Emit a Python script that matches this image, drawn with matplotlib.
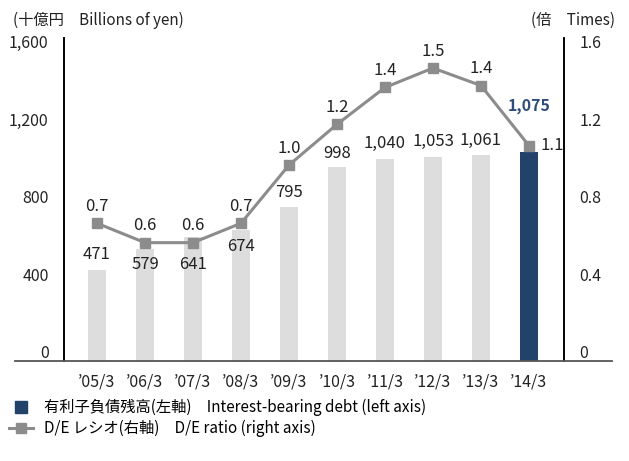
import matplotlib
matplotlib.use("Agg")
import matplotlib.pyplot as plt
from matplotlib.lines import Line2D
from matplotlib.transforms import ScaledTranslation

plt.rcParams['font.family'] = ['Noto Sans CJK JP', 'DejaVu Sans']

# data
years = ['\u201905/3', '\u201906/3', '\u201907/3', '\u201908/3', '\u201909/3',
         '\u201910/3', '\u201911/3', '\u201912/3', '\u201913/3', '\u201914/3']
debt = [471, 579, 641, 674, 795, 998, 1040, 1053, 1061, 1075]
de_ratio = [0.71, 0.61, 0.61, 0.71, 1.01, 1.22, 1.41, 1.51, 1.42, 1.11]
left_ticks = [0, 400, 800, 1200, 1600]
right_ticks = [0, 0.4, 0.8, 1.2, 1.6]

# label placement (pixels, up = positive)
bar_label_dy = [15, -16, -28, -16, 14, 14, 16, 15, 15, 46]

light = '#dcdddc'
dark = '#23426a'
grey = '#8c8c8c'

W, H = 629, 461
fig = plt.figure(figsize=(W / 100, H / 100), dpi=100)
ax = fig.add_axes([64 / W, 1 - 361 / H, 500 / W, (361 - 38) / H])
ax2 = ax.twinx()

x = list(range(len(years)))
colors = [light] * (len(years) - 1) + [dark]
ax.bar(x, debt, width=0.36, color=colors, zorder=2)
ax2.plot(x, de_ratio, color=grey, lw=2.2, marker='s', ms=6.5, zorder=3)

ax.set_xlim(-0.6875, 9.73)
ax.set_ylim(0, 1665)
ax2.set_ylim(0, 1.665)

ax.set_yticks(left_ticks)
ax.set_yticklabels([f'{v:,}' for v in left_ticks])
ax2.set_yticks(right_ticks)
ax2.set_yticklabels([f'{v:g}' if v == 0 else f'{v:.1f}' for v in right_ticks])
ax.set_xticks(x)
ax.set_xticklabels(years)

ax.tick_params(axis='y', length=0, pad=11, labelsize=11.5, colors='#222222')
ax2.tick_params(axis='y', length=0, pad=11, labelsize=11.5, colors='#222222')
ax.tick_params(axis='x', length=0, pad=9, labelsize=11.5, colors='#222222')

# tick labels sit a little above their values
up = ScaledTranslation(0, 9 / 100, fig.dpi_scale_trans)
for lab in ax.get_yticklabels() + ax2.get_yticklabels():
    lab.set_transform(lab.get_transform() + up)

for a in (ax, ax2):
    a.spines['top'].set_visible(False)
    a.spines['bottom'].set_visible(False)
    a.spines['left'].set_linewidth(1.2)
    a.spines['right'].set_linewidth(1.2)

# baseline running past both axes
fig.add_artist(Line2D([15 / W, 612 / W], [1 - 361 / H, 1 - 361 / H],
                      color='#555555', lw=1.3))

for i, v in enumerate(debt):
    last = i == len(debt) - 1
    ax.annotate(f'{v:,}', (i, v), xytext=(0, bar_label_dy[i]),
                textcoords='offset pixels', ha='center', va='center',
                fontsize=12 if not last else 11.5,
                color='#2e4d7b' if last else '#222222',
                fontweight='bold' if last else 'normal', zorder=5)

for i, r in enumerate(de_ratio):
    if i == len(de_ratio) - 1:
        ax2.annotate(f'{r:.1f}', (i, r), xytext=(23, 0),
                     textcoords='offset pixels', ha='center', va='center',
                     fontsize=12, color='#222222')
    else:
        ax2.annotate(f'{r:.1f}', (i, r), xytext=(0, 17),
                     textcoords='offset pixels', ha='center', va='center',
                     fontsize=12, color='#222222')

fig.text(13 / W, 1 - 20 / H, '(十億円\u3000Billions of yen)', ha='left',
         va='center', fontsize=11, color='#222222')
fig.text(615 / W, 1 - 20 / H, '(倍\u3000Times)', ha='right',
         va='center', fontsize=11, color='#222222')

handles = [Line2D([], [], ls='none', marker='s', ms=8, color=dark),
           Line2D([], [], color=grey, lw=2.2, marker='s', ms=6.5)]
names = ['有利子負債残高(左軸)\u3000Interest-bearing debt (left axis)',
         'D/E レシオ(右軸)\u3000D/E ratio (right axis)']
fig.legend(handles, names, loc='upper left', bbox_to_anchor=(9 / W, 1 - 399 / H),
           frameon=False, fontsize=11, handlelength=1.6, handletextpad=0.7,
           labelspacing=0.25, borderaxespad=0, borderpad=0)

fig.savefig('out.png', dpi=100)
